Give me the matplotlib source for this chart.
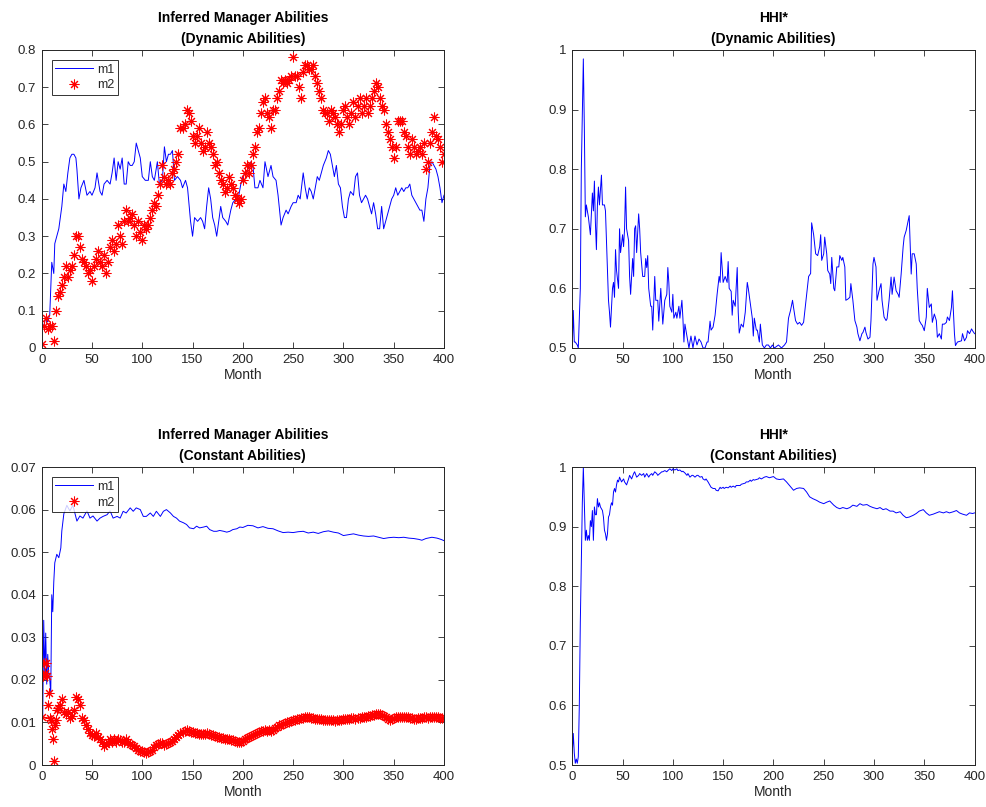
import matplotlib
matplotlib.use("Agg")
import matplotlib.pyplot as plt
from matplotlib.ticker import FuncFormatter

plt.rcParams['font.family'] = ['Liberation Sans', 'DejaVu Sans']
plt.rcParams['font.size'] = 9.5

# Inferred abilities, dynamic case: manager 1 (line)
dyn_m1_month = [0, 2, 4, 6, 8, 10, 12, 13, 15, 17,
                20, 22, 24, 26, 28, 30, 32, 34, 35, 37,
                39, 42, 45, 48, 50, 53, 55, 58, 60, 62,
                65, 68, 70, 72, 74, 76, 78, 80, 82, 84,
                86, 88, 90, 92, 94, 96, 98, 100, 103, 106,
                108, 110, 112, 115, 117, 120, 122, 124, 126, 128,
                130, 132, 135, 138, 140, 143, 145, 148, 150, 152,
                155, 158, 160, 162, 164, 166, 168, 170, 172, 174,
                176, 178, 180, 183, 185, 188, 190, 193, 196, 198,
                200, 205, 208, 210, 212, 215, 217, 220, 222, 225,
                228, 230, 233, 235, 238, 240, 243, 245, 248, 250,
                253, 255, 257, 260, 262, 264, 266, 268, 270, 272,
                274, 276, 278, 280, 283, 285, 287, 289, 291, 293,
                295, 297, 299, 301, 303, 305, 307, 310, 312, 314,
                316, 318, 320, 322, 324, 326, 328, 330, 332, 334,
                336, 338, 340, 342, 344, 346, 348, 350, 352, 354,
                356, 358, 360, 362, 364, 366, 368, 370, 372, 374,
                376, 378, 380, 382, 384, 386, 388, 390, 392, 394,
                396, 398, 400]
dyn_m1 = [0.05, 0.06, 0.08, 0.07, 0.09, 0.23, 0.20, 0.28, 0.30, 0.32,
          0.38, 0.44, 0.42, 0.47, 0.51, 0.52, 0.52, 0.51, 0.48, 0.40,
          0.43, 0.45, 0.41, 0.42, 0.41, 0.43, 0.47, 0.42, 0.41, 0.44,
          0.45, 0.44, 0.47, 0.51, 0.45, 0.50, 0.48, 0.51, 0.44, 0.44,
          0.50, 0.49, 0.49, 0.50, 0.55, 0.53, 0.51, 0.46, 0.45, 0.45,
          0.50, 0.46, 0.45, 0.50, 0.44, 0.45, 0.54, 0.50, 0.52, 0.52,
          0.53, 0.45, 0.46, 0.45, 0.43, 0.45, 0.43, 0.34, 0.30, 0.35,
          0.34, 0.35, 0.34, 0.32, 0.38, 0.43, 0.40, 0.35, 0.33, 0.30,
          0.34, 0.38, 0.35, 0.34, 0.33, 0.37, 0.39, 0.40, 0.41, 0.44,
          0.46, 0.48, 0.50, 0.49, 0.43, 0.43, 0.45, 0.43, 0.50, 0.46,
          0.49, 0.46, 0.45, 0.41, 0.33, 0.35, 0.37, 0.36, 0.38, 0.39,
          0.39, 0.41, 0.40, 0.47, 0.43, 0.40, 0.43, 0.42, 0.40, 0.43,
          0.46, 0.45, 0.47, 0.49, 0.51, 0.53, 0.52, 0.49, 0.46, 0.49,
          0.44, 0.43, 0.38, 0.35, 0.35, 0.40, 0.42, 0.41, 0.46, 0.47,
          0.41, 0.39, 0.40, 0.41, 0.40, 0.38, 0.36, 0.39, 0.36, 0.32,
          0.32, 0.38, 0.32, 0.34, 0.36, 0.38, 0.40, 0.41, 0.43, 0.41,
          0.42, 0.43, 0.42, 0.43, 0.43, 0.44, 0.41, 0.40, 0.39, 0.38,
          0.37, 0.37, 0.34, 0.40, 0.43, 0.49, 0.50, 0.49, 0.48, 0.46,
          0.43, 0.39, 0.41]

# Inferred abilities, dynamic case: manager 2 (stars), every second month
dyn_m2_month = list(range(0, 401, 2))
dyn_m2 = [0.01, 0.06, 0.08, 0.05, 0.06, 0.06, 0.02, 0.10, 0.14, 0.15,
          0.17, 0.19, 0.22, 0.19, 0.21, 0.22, 0.25, 0.30, 0.30, 0.27,
          0.24, 0.23, 0.22, 0.20, 0.21, 0.18, 0.22, 0.24, 0.26, 0.23,
          0.22, 0.25, 0.20, 0.23, 0.27, 0.29, 0.26, 0.28, 0.33, 0.30,
          0.28, 0.34, 0.37, 0.34, 0.35, 0.36, 0.33, 0.30, 0.34, 0.31,
          0.29, 0.33, 0.32, 0.33, 0.35, 0.37, 0.39, 0.38, 0.41, 0.44,
          0.49, 0.46, 0.44, 0.45, 0.44, 0.47, 0.48, 0.50, 0.52, 0.59,
          0.59, 0.60, 0.64, 0.63, 0.61, 0.57, 0.55, 0.57, 0.59, 0.55,
          0.53, 0.54, 0.58, 0.55, 0.54, 0.52, 0.49, 0.50, 0.47, 0.45,
          0.44, 0.42, 0.43, 0.46, 0.44, 0.43, 0.41, 0.40, 0.39, 0.40,
          0.45, 0.47, 0.49, 0.47, 0.49, 0.52, 0.54, 0.58, 0.59, 0.63,
          0.66, 0.67, 0.63, 0.62, 0.59, 0.64, 0.64, 0.67, 0.69, 0.72,
          0.71, 0.72, 0.71, 0.72, 0.73, 0.78, 0.73, 0.73, 0.70, 0.67,
          0.74, 0.76, 0.76, 0.75, 0.75, 0.76, 0.73, 0.71, 0.69, 0.67,
          0.64, 0.63, 0.63, 0.61, 0.64, 0.63, 0.62, 0.60, 0.58, 0.60,
          0.64, 0.65, 0.62, 0.60, 0.63, 0.66, 0.62, 0.65, 0.67, 0.63,
          0.65, 0.67, 0.63, 0.65, 0.67, 0.69, 0.71, 0.70, 0.67, 0.65,
          0.64, 0.60, 0.58, 0.56, 0.54, 0.51, 0.54, 0.61, 0.61, 0.61,
          0.58, 0.57, 0.54, 0.52, 0.56, 0.54, 0.52, 0.53, 0.54, 0.52,
          0.55, 0.48, 0.50, 0.55, 0.58, 0.62, 0.57, 0.56, 0.54, 0.50,
          0.52]

# HHI*, dynamic case
dyn_hhi_month = [0, 1, 2, 3, 5, 6, 7, 8, 9, 10,
                 11, 12, 13, 14, 16, 18, 20, 21, 22, 23,
                 24, 25, 26, 27, 29, 30, 32, 33, 35, 36,
                 37, 38, 40, 41, 42, 43, 44, 46, 47, 48,
                 50, 51, 52, 53, 54, 56, 57, 58, 60, 61,
                 62, 63, 64, 66, 67, 68, 70, 72, 73, 74,
                 75, 76, 78, 79, 80, 82, 83, 85, 86, 88,
                 89, 90, 92, 94, 95, 96, 97, 99, 100, 101,
                 103, 104, 106, 107, 109, 110, 111, 112, 114, 116,
                 118, 120, 122, 124, 126, 128, 130, 132, 134, 135,
                 137, 138, 140, 142, 144, 146, 147, 148, 150, 152,
                 154, 155, 156, 158, 159, 160, 162, 164, 165, 166,
                 168, 170, 172, 174, 175, 177, 179, 180, 181, 183,
                 184, 186, 187, 189, 191, 193, 195, 197, 199, 201,
                 205, 208, 211, 213, 215, 217, 219, 220, 222, 224,
                 226, 228, 230, 233, 235, 237, 238, 240, 242, 244,
                 246, 247, 248, 250, 251, 253, 254, 256, 257, 258,
                 260, 261, 263, 265, 266, 268, 269, 271, 272, 274,
                 276, 277, 279, 281, 283, 284, 286, 288, 289, 291,
                 292, 294, 296, 297, 299, 300, 302, 303, 305, 307,
                 308, 310, 312, 313, 315, 317, 318, 320, 322, 324,
                 325, 327, 329, 330, 332, 334, 335, 337, 338, 340,
                 342, 343, 345, 347, 348, 350, 352, 353, 355, 357,
                 358, 360, 362, 363, 365, 367, 368, 370, 372, 373,
                 375, 377, 378, 380, 381, 383, 385, 387, 388, 390,
                 392, 393, 395, 397, 398, 400]
dyn_hhi = [0.50, 0.563, 0.51, 0.51, 0.505, 0.50, 0.55, 0.60, 0.80, 0.89,
           0.985, 0.87, 0.72, 0.74, 0.72, 0.69, 0.76, 0.73, 0.78, 0.71,
           0.665, 0.74, 0.77, 0.74, 0.79, 0.74, 0.74, 0.73, 0.63, 0.58,
           0.56, 0.535, 0.60, 0.61, 0.585, 0.665, 0.63, 0.60, 0.70, 0.66,
           0.69, 0.67, 0.70, 0.77, 0.70, 0.68, 0.62, 0.59, 0.65, 0.62,
           0.70, 0.705, 0.66, 0.725, 0.70, 0.66, 0.62, 0.62, 0.65, 0.635,
           0.655, 0.60, 0.57, 0.57, 0.53, 0.62, 0.58, 0.58, 0.545, 0.60,
           0.57, 0.54, 0.58, 0.59, 0.635, 0.61, 0.57, 0.56, 0.59, 0.55,
           0.56, 0.55, 0.57, 0.55, 0.58, 0.55, 0.51, 0.54, 0.52, 0.50,
           0.52, 0.50, 0.52, 0.505, 0.515, 0.51, 0.50, 0.50, 0.51, 0.51,
           0.545, 0.53, 0.535, 0.555, 0.59, 0.62, 0.61, 0.66, 0.61, 0.62,
           0.61, 0.645, 0.60, 0.595, 0.555, 0.58, 0.57, 0.635, 0.56, 0.525,
           0.54, 0.535, 0.56, 0.61, 0.60, 0.575, 0.55, 0.52, 0.55, 0.53,
           0.53, 0.51, 0.54, 0.505, 0.50, 0.505, 0.505, 0.50, 0.505, 0.50,
           0.505, 0.50, 0.505, 0.51, 0.55, 0.563, 0.58, 0.568, 0.546, 0.54,
           0.543, 0.538, 0.543, 0.59, 0.62, 0.625, 0.71, 0.69, 0.658, 0.655,
           0.67, 0.69, 0.647, 0.658, 0.686, 0.658, 0.63, 0.624, 0.608, 0.652,
           0.60, 0.596, 0.636, 0.636, 0.655, 0.647, 0.652, 0.636, 0.58, 0.582,
           0.585, 0.608, 0.58, 0.546, 0.535, 0.524, 0.512, 0.524, 0.526, 0.535,
           0.526, 0.515, 0.518, 0.546, 0.641, 0.652, 0.636, 0.58, 0.596, 0.608,
           0.58, 0.552, 0.546, 0.549, 0.58, 0.619, 0.59, 0.619, 0.596, 0.59,
           0.585, 0.624, 0.67, 0.686, 0.697, 0.714, 0.722, 0.624, 0.658, 0.658,
           0.641, 0.60, 0.546, 0.54, 0.538, 0.529, 0.552, 0.60, 0.568, 0.574,
           0.543, 0.557, 0.546, 0.518, 0.524, 0.515, 0.54, 0.54, 0.543, 0.552,
           0.546, 0.568, 0.596, 0.524, 0.504, 0.51, 0.511, 0.512, 0.524, 0.512,
           0.518, 0.529, 0.524, 0.532, 0.529, 0.524]

# Inferred abilities, constant case: manager 1 (line)
const_m1_month = [1, 2, 3, 4, 5, 6, 7, 8, 9, 10,
                  11, 12, 13, 15, 17, 19, 20, 22, 25, 28,
                  31, 35, 38, 41, 45, 48, 51, 55, 58, 61,
                  65, 68, 71, 75, 78, 81, 84, 88, 91, 94,
                  98, 101, 104, 108, 111, 114, 118, 121, 124, 128,
                  131, 134, 137, 141, 144, 147, 151, 154, 157, 161,
                  164, 167, 171, 174, 177, 181, 184, 187, 190, 194,
                  197, 200, 205, 210, 215, 220, 225, 230, 235, 240,
                  245, 250, 255, 260, 265, 270, 275, 280, 285, 290,
                  295, 300, 305, 310, 315, 320, 325, 330, 335, 340,
                  345, 350, 355, 360, 365, 370, 375, 378, 382, 388,
                  393, 397, 400]
const_m1 = [0.011, 0.034, 0.0215, 0.031, 0.019, 0.026, 0.0215, 0.020, 0.017, 0.040,
            0.036, 0.043, 0.0475, 0.0495, 0.0487, 0.051, 0.055, 0.059, 0.061, 0.0597,
            0.061, 0.0573, 0.0585, 0.058, 0.0597, 0.058, 0.0585, 0.0573, 0.058, 0.0584,
            0.0588, 0.0597, 0.058, 0.0584, 0.058, 0.0596, 0.0592, 0.0604, 0.0596, 0.0604,
            0.060, 0.0584, 0.0584, 0.0592, 0.0584, 0.0596, 0.0584, 0.0596, 0.060, 0.0592,
            0.0584, 0.058, 0.0573, 0.0569, 0.0565, 0.0557, 0.0555, 0.0561, 0.0557, 0.0559,
            0.0561, 0.0553, 0.0549, 0.0549, 0.0551, 0.0549, 0.0547, 0.0549, 0.0553, 0.0555,
            0.0559, 0.0558, 0.0563, 0.0562, 0.0557, 0.0560, 0.0556, 0.0555, 0.0550, 0.0546,
            0.0547, 0.0546, 0.0548, 0.0549, 0.0545, 0.0547, 0.0544, 0.0548, 0.0550, 0.0547,
            0.0545, 0.0539, 0.0541, 0.0543, 0.0540, 0.0538, 0.0537, 0.0538, 0.0535, 0.0532,
            0.0534, 0.0535, 0.0534, 0.0535, 0.0533, 0.0532, 0.0530, 0.0528, 0.0532, 0.0535,
            0.0533, 0.0530, 0.0527]

# Inferred abilities, constant case: manager 2 (stars)
const_m2_month = list(range(0, 16)) + list(range(16, 401, 2))
const_m2 = [0.0113, 0.021, 0.024, 0.0215, 0.024, 0.021, 0.014, 0.017, 0.011, 0.0105,
            0.0085, 0.006, 0.001, 0.0095, 0.0105, 0.013,
            0.0135, 0.014, 0.0155, 0.0125, 0.012, 0.0125, 0.011, 0.0115, 0.013, 0.016,
            0.0155, 0.014, 0.011, 0.0105, 0.0095, 0.0085, 0.0075, 0.007, 0.0068, 0.0075,
            0.0065, 0.006, 0.0055, 0.0045, 0.005, 0.0055, 0.006, 0.0055, 0.006, 0.0055,
            0.006, 0.0058, 0.0055, 0.0055, 0.006, 0.0055, 0.005, 0.0048, 0.0045, 0.004,
            0.0035, 0.0033, 0.0032, 0.003, 0.0028, 0.003, 0.0032, 0.0036, 0.0042, 0.0048,
            0.005, 0.0052, 0.0052, 0.0048, 0.005, 0.0052, 0.0055, 0.0057, 0.006, 0.0065,
            0.007, 0.0075, 0.0078, 0.008, 0.0082, 0.008, 0.0078, 0.0077, 0.0076, 0.0075,
            0.0074, 0.0073, 0.0073, 0.0074, 0.0075, 0.0073, 0.0071, 0.007, 0.0069, 0.0067,
            0.0066, 0.0064, 0.0063, 0.0062, 0.006, 0.006, 0.0059, 0.0058, 0.0057, 0.0055,
            0.0054, 0.0055, 0.0057, 0.006, 0.0063, 0.0066, 0.0068, 0.0071, 0.0073, 0.0076,
            0.0078, 0.008, 0.0081, 0.0082, 0.0081, 0.0082, 0.0081, 0.0082, 0.0086, 0.009,
            0.0093, 0.0095, 0.0097, 0.0099, 0.010, 0.0102, 0.0103, 0.0105, 0.0106, 0.0108,
            0.0109, 0.011, 0.0111, 0.0112, 0.0113, 0.0113, 0.0111, 0.011, 0.0109, 0.0108,
            0.0108, 0.0107, 0.0106, 0.0106, 0.0105, 0.0105, 0.0106, 0.0105, 0.0104, 0.0105,
            0.0105, 0.0106, 0.0107, 0.0108, 0.0109, 0.0109, 0.011, 0.011, 0.0109, 0.011,
            0.011, 0.0112, 0.0113, 0.0114, 0.0115, 0.0115, 0.0117, 0.0118, 0.012, 0.012,
            0.0119, 0.0117, 0.0115, 0.0112, 0.0108, 0.0105, 0.0107, 0.011, 0.0113, 0.0113,
            0.0114, 0.0113, 0.0113, 0.0112, 0.0113, 0.0111, 0.011, 0.0109, 0.0109, 0.011,
            0.011, 0.0111, 0.0112, 0.0112, 0.0111, 0.0113, 0.0114, 0.0113, 0.0113, 0.0112,
            0.0111, 0.011, 0.011]

# HHI*, constant case
const_hhi_month = [0, 1, 2, 3, 4, 5, 6, 7, 8, 9,
                   10, 11, 12, 13, 14, 15, 16, 17, 18, 19,
                   20, 21, 22, 23, 24, 25, 26, 27, 28, 29,
                   30, 31, 32, 33, 34, 35, 36, 37, 38, 39,
                   40, 41, 42, 43, 44, 45, 46, 47, 49, 51,
                   52, 54, 56, 57, 59, 61, 62, 64, 66, 67,
                   69, 71, 72, 74, 76, 77, 79, 80, 82, 84,
                   85, 87, 89, 90, 92, 94, 95, 97, 99, 100,
                   102, 104, 105, 107, 109, 110, 112, 114, 115, 117,
                   119, 120, 122, 124, 125, 127, 129, 130, 132, 133,
                   135, 137, 138, 140, 142, 143, 145, 147, 148, 150,
                   151, 153, 155, 157, 158, 160, 162, 163, 165, 167,
                   168, 170, 172, 173, 175, 177, 178, 180, 181, 183,
                   185, 186, 188, 190, 191, 193, 196, 200, 203, 206,
                   210, 213, 216, 220, 223, 226, 230, 233, 236, 239,
                   243, 246, 250, 253, 256, 260, 263, 266, 269, 273,
                   276, 279, 283, 286, 289, 293, 296, 299, 303, 306,
                   309, 312, 316, 319, 322, 326, 329, 332, 335, 339,
                   342, 345, 349, 352, 355, 359, 362, 365, 369, 372,
                   375, 379, 382, 385, 388, 392, 395, 398, 400]
const_hhi = [0.52, 0.553, 0.52, 0.503, 0.51, 0.503, 0.514, 0.60, 0.74, 0.84,
             0.94, 1.0, 0.94, 0.877, 0.894, 0.877, 0.885, 0.877, 0.91, 0.90,
             0.927, 0.877, 0.933, 0.92, 0.92, 0.947, 0.933, 0.94, 0.933, 0.93,
             0.927, 0.916, 0.894, 0.888, 0.877, 0.888, 0.916, 0.92, 0.933, 0.94,
             0.936, 0.958, 0.964, 0.958, 0.97, 0.978, 0.975, 0.983, 0.975, 0.98,
             0.975, 0.97, 0.98, 0.986, 0.98, 0.989, 0.992, 0.983, 0.986, 0.989,
             0.986, 0.989, 0.983, 0.989, 0.983, 0.986, 0.989, 0.986, 0.992, 0.989,
             0.986, 0.989, 0.992, 0.992, 0.994, 0.992, 0.994, 0.997, 0.994, 0.997,
             0.995, 0.997, 0.994, 0.995, 0.992, 0.993, 0.990, 0.986, 0.989, 0.983,
             0.986, 0.986, 0.983, 0.986, 0.986, 0.983, 0.984, 0.980, 0.978, 0.980,
             0.975, 0.969, 0.966, 0.964, 0.964, 0.961, 0.960, 0.966, 0.964, 0.966,
             0.964, 0.966, 0.965, 0.968, 0.966, 0.968, 0.966, 0.969, 0.969, 0.969,
             0.971, 0.972, 0.973, 0.975, 0.975, 0.978, 0.976, 0.979, 0.978, 0.979,
             0.980, 0.982, 0.980, 0.982, 0.983, 0.984, 0.982, 0.984, 0.980, 0.979,
             0.980, 0.975, 0.969, 0.961, 0.964, 0.965, 0.964, 0.958, 0.950, 0.947,
             0.944, 0.941, 0.9385, 0.941, 0.943, 0.936, 0.932, 0.930, 0.932, 0.930,
             0.932, 0.936, 0.934, 0.9385, 0.936, 0.937, 0.934, 0.932, 0.930, 0.932,
             0.9285, 0.930, 0.926, 0.926, 0.923, 0.925, 0.919, 0.915, 0.916, 0.919,
             0.922, 0.926, 0.9285, 0.923, 0.919, 0.921, 0.923, 0.925, 0.923, 0.925,
             0.923, 0.925, 0.927, 0.923, 0.921, 0.919, 0.923, 0.922, 0.923]

month_ticks = [0, 50, 100, 150, 200, 250, 300, 350, 400]
AXIS_GREY = '#262626'
STAR = (8, 2, 0)


def style_axes(ax, ylim, yticks, title):
    ax.set_xlim(0, 400)
    ax.set_ylim(*ylim)
    ax.set_xticks(month_ticks)
    ax.set_yticks(yticks)
    ax.yaxis.set_major_formatter(FuncFormatter(lambda v, _: f'{v:g}'))
    ax.tick_params(direction='in', top=True, right=True, length=4, width=0.6,
                   colors=AXIS_GREY, labelsize=9.5, pad=4)
    for sp in ax.spines.values():
        sp.set_color(AXIS_GREY)
        sp.set_linewidth(0.7)
    ax.set_xlabel('Month', fontsize=10, color=AXIS_GREY, labelpad=2)
    ax.set_title(title, fontsize=10, fontweight='bold', linespacing=1.6, pad=5)


fig = plt.figure(figsize=(9.86, 8.07), dpi=100)
w, h = 0.408, 0.3693
ax_tl = fig.add_axes([0.0423, 0.5688, w, h])
ax_tr = fig.add_axes([0.5804, 0.5688, w, h])
ax_bl = fig.add_axes([0.0423, 0.0520, w, h])
ax_br = fig.add_axes([0.5804, 0.0520, w, h])

# Top left: inferred abilities, dynamic
ax_tl.plot(dyn_m1_month, dyn_m1, color='b', linewidth=0.7, label='m1')
ax_tl.plot(dyn_m2_month, dyn_m2, linestyle='none', marker=STAR, markersize=7,
           markeredgewidth=0.75, color='r', label='m2')
style_axes(ax_tl, (0, 0.8), [0, 0.1, 0.2, 0.3, 0.4, 0.5, 0.6, 0.7, 0.8],
           'Inferred Manager Abilities\n(Dynamic Abilities)')

# Top right: HHI*, dynamic
ax_tr.plot(dyn_hhi_month, dyn_hhi, color='b', linewidth=0.7)
style_axes(ax_tr, (0.5, 1), [0.5, 0.6, 0.7, 0.8, 0.9, 1.0],
           'HHI*\n(Dynamic Abilities)')

# Bottom left: inferred abilities, constant
ax_bl.plot(const_m1_month, const_m1, color='b', linewidth=0.7, label='m1')
ax_bl.plot(const_m2_month, const_m2, linestyle='none', marker=STAR, markersize=7,
           markeredgewidth=0.75, color='r', label='m2')
style_axes(ax_bl, (0, 0.07), [0, 0.01, 0.02, 0.03, 0.04, 0.05, 0.06, 0.07],
           'Inferred Manager Abilities\n(Constant Abilities)')

# Bottom right: HHI*, constant
ax_br.plot(const_hhi_month, const_hhi, color='b', linewidth=0.7)
style_axes(ax_br, (0.5, 1), [0.5, 0.6, 0.7, 0.8, 0.9, 1.0],
           'HHI*\n(Constant Abilities)')

for ax in (ax_tl, ax_bl):
    leg = ax.legend(loc='upper left', fontsize=9, frameon=True, fancybox=False,
                    handlelength=3.0, borderpad=0.3, labelspacing=0.3,
                    handletextpad=0.3, borderaxespad=0.8)
    leg.get_frame().set_edgecolor('black')
    leg.get_frame().set_linewidth(0.7)
    for txt in leg.get_texts():
        txt.set_color(AXIS_GREY)

fig.savefig('out.png', dpi=100)
